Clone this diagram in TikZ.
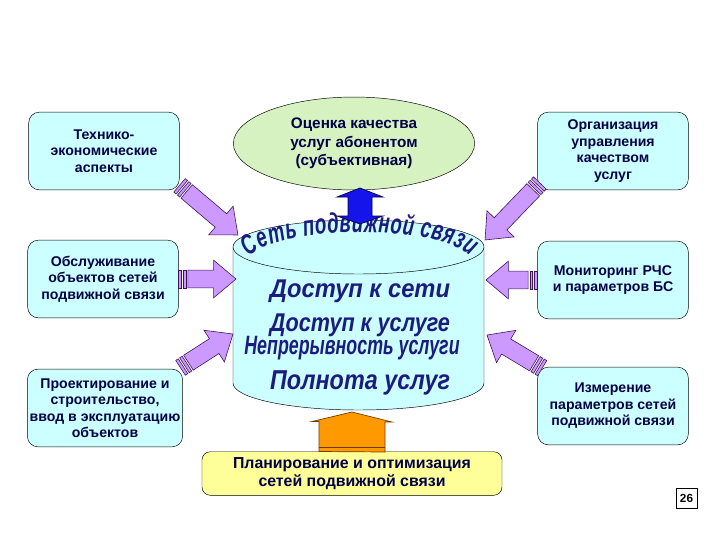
\documentclass[tikz,border=0pt]{standalone}
\usepackage{graphicx}
\usepackage{fontspec}
\setmainfont{Liberation Sans}
\newfontfamily\wordart[FakeStretch=0.8]{Liberation Sans}
\newfontfamily\arcfont[FakeStretch=0.66]{Liberation Sans}
\usetikzlibrary{shapes.geometric, calc, decorations.text}

\definecolor{boxcyan}{RGB}{204,255,255}
\definecolor{ovalgreen}{RGB}{214,242,192}
\definecolor{planyellow}{RGB}{255,255,153}
\definecolor{labelnavy}{RGB}{0,0,70}
\definecolor{wordblue}{RGB}{28,28,128}
\definecolor{violetfill}{RGB}{204,153,255}
\definecolor{violetedge}{RGB}{60,20,90}
\definecolor{upblue}{RGB}{20,20,235}
\definecolor{orangefill}{RGB}{255,153,0}
\definecolor{orangeedge}{RGB}{110,60,0}

% striped block arrow from #1 to #2
\newcommand\stripedarrow[2]{%
  \path let \p1=(#1), \p2=(#2) in
    \pgfextra{\pgfmathsetmacro\arrang{atan2(\y2-\y1,\x2-\x1)}%
      \pgfmathsetmacro\arrlen{veclen(\x2-\x1,\y2-\y1)}%
      \global\let\arrang\arrang \global\let\arrlen\arrlen};
  \begin{scope}[shift={(#1)}, rotate=\arrang, violetarrow]
    \filldraw (0pt,-7.5pt) rectangle (2.5pt,7.5pt);
    \filldraw (4pt,-7.5pt) rectangle (6.5pt,7.5pt);
    \filldraw (8pt,-7.5pt) -- ({\arrlen pt-19pt},-7.5pt) -- ({\arrlen pt-19pt},-16pt)
      -- (\arrlen pt,0pt) -- ({\arrlen pt-19pt},16pt) -- ({\arrlen pt-19pt},7.5pt)
      -- (8pt,7.5pt) -- cycle;
  \end{scope}}

\begin{document}
\begin{tikzpicture}[x=0.85pt, y=0.85pt,
    block/.style={rectangle, draw, fill=boxcyan, rounded corners=9pt, text=labelnavy, align=center,
      inner sep=0pt, minimum width=128pt, minimum height=66pt, font=\fontsize{12}{14}\selectfont\bfseries},
    oval/.style={ellipse, draw, fill=ovalgreen, text=labelnavy, align=center, inner sep=0pt,
      minimum width=205pt, minimum height=79pt, font=\fontsize{13}{15.8}\selectfont\bfseries},
    planblock/.style={rectangle, draw, fill=planyellow, rounded corners=7pt, align=center, inner sep=0pt,
      minimum width=255pt, minimum height=37pt, text=labelnavy, font=\fontsize{13.5}{15.5}\selectfont\bfseries},
    bigtext/.style={inner sep=0pt, text=wordblue, font=\wordart\bfseries\itshape},
    violetarrow/.style={fill=violetfill, draw=violetedge, line width=0.5pt},
    updown/.style={fill=upblue, draw=labelnavy, line width=0.6pt},
    uparrow/.style={fill=orangefill, draw=orangeedge, line width=0.6pt}]

  \fill[white] (0,0) rectangle (720,-540);
  \useasboundingbox (0,0) rectangle (720,-540);

  % the network cylinder
  \fill[boxcyan] (233,-247) -- (233,-383) arc[start angle=180, end angle=360, x radius=125.5, y radius=27]
    -- (484,-247) -- cycle;
  \draw (233,-247) -- (233,-383) arc[start angle=180, end angle=360, x radius=125.5, y radius=27] -- (484,-247);
  \draw[fill=boxcyan] (358.5,-247) ellipse[x radius=125.5, y radius=27];

  \path[decorate, decoration={text along path, text align=fit to path, text color=wordblue,
      text={|\arcfont\bfseries\itshape\fontsize{24}{24}\selectfont|Сеть подвижной связи}}]
    (249,-257) .. controls (283,-224) and (437,-224) .. (471,-256);

  \node[bigtext] (access) at (360,-291) {\resizebox{153pt}{15pt}{Доступ к сети}};
  \node[bigtext] (service) at (360,-325) {\resizebox{153pt}{15pt}{Доступ к услуге}};
  \node[bigtext] (continuity) at (352,-348) {\resizebox{183pt}{15.5pt}{Непрерывность услуги}};
  \node[bigtext] (complete) at (360,-383) {\resizebox{153pt}{16pt}{Полнота услуг}};

  % boxes
  \node[block] (econ) at (104,-151) {Технико-\\экономические\\аспекты};
  \node[block] (qmgmt) at (613,-151) {Организация\\управления\\качеством\\услуг};
  \node[block] (maint) at (103,-279) {Обслуживание\\объектов сетей\\подвижной связи};
  \node[block, minimum width=132pt] (build) at (105,-408) {Проектирование и\\строительство,\\ввод в эксплуатацию\\объектов};
  \node[block] (monit) at (613,-280) {Мониторинг РЧС\\и параметров БС};
  \node[block] (meas) at (613,-406) {Измерение\\параметров сетей\\подвижной связи};
  \node[oval] (qoe) at (354,-143.5) {Оценка качества\\услуг абонентом\\(субъективная)};
  \node[planblock] (plan) at (352,-473.5) {Планирование и оптимизация\\сетей подвижной связи};
  \node[draw, inner sep=0pt, minimum width=18pt, minimum height=17pt, font=\fontsize{10}{10}\selectfont\bfseries]
    (slide) at (686.5,-498) {26};

  % arrow ends on the cylinder
  \coordinate (cylNW) at (238,-235);
  \coordinate (cylNE) at (485,-240);
  \coordinate (cylW) at (236,-279);
  \coordinate (cylE) at (486,-280);
  \coordinate (cylSW) at (233,-334);
  \coordinate (cylSE) at (487,-335);
  \coordinate (cyltop) at (360,-224);
  \coordinate (cylbase) at (352,-412);

  \coordinate (econtail) at ([yshift=4pt]econ.south east);
  \coordinate (qmgmttail) at ([xshift=2pt,yshift=6pt]qmgmt.south west);
  \coordinate (buildtail) at ([xshift=-2pt,yshift=1pt]build.north east);
  \coordinate (meastail) at ([xshift=4pt,yshift=-1pt]meas.north west);

  \stripedarrow{econtail}{cylNW}
  \stripedarrow{qmgmttail}{cylNE}
  \stripedarrow{maint.east}{cylW}
  \stripedarrow{monit.west}{cylE}
  \stripedarrow{buildtail}{cylSW}
  \stripedarrow{meastail}{cylSE}

  \draw[updown] (cyltop) -- ++(-23,8) -- ++(11,0) -- ++(0,19) -- ++(-11,0) -- ++(23,9)
    -- ++(23,-9) -- ++(-11,0) -- ++(0,-19) -- ++(11,0) -- cycle;
  \draw[uparrow] (plan.north) ++(-33,0) -- ++(0,30) -- ++(-7,0) -- (cylbase) -- ++(40,-10)
    -- ++(-7,0) -- ++(0,-30) -- cycle;
  \draw[orangeedge, line width=1pt] (plan.north) ++(-33,4) -- ++(66,0);
\end{tikzpicture}
\end{document}
